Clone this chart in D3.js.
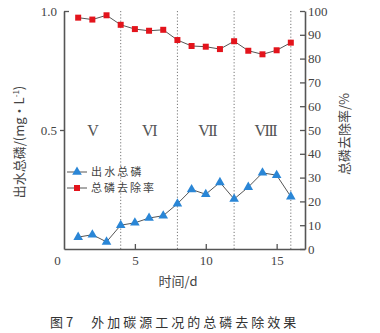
<!DOCTYPE html>
<html>
<head>
<meta charset="utf-8">
<script src="https://cdn.jsdelivr.net/npm/d3@7"></script>
<style>
  html, body { margin: 0; padding: 0; background: #fff; }
  svg { display: block; }
</style>
</head>
<body>
<script>
// Days of operation
const days = [1, 2, 3, 4, 5, 6, 7, 8, 9, 10, 11, 12, 13, 14, 15, 16];
// Effluent total phosphorus, mg/L (left axis)
const effluentTP = [0.05, 0.06, 0.03, 0.10, 0.11, 0.13, 0.14, 0.19, 0.25, 0.23, 0.28, 0.21, 0.26, 0.32, 0.31, 0.22];
// Total phosphorus removal rate, % (right axis)
const removalRate = [97.2, 96.4, 98.2, 94.2, 92.4, 91.7, 92.1, 87.8, 85.3, 85.0, 84.0, 87.3, 83.3, 81.8, 83.5, 86.7];
// Stage boundaries and stage names
const stageBounds = [4, 8, 12, 16];
const stageNames = ["V", "VI", "VII", "VIII"];
const stageCenters = [2, 6, 10.1, 14.2];
// Tick values
const xTicks = [0, 5, 10, 15];
const leftTicks = [0.5, 1.0];
const rightTicks = [0, 10, 20, 30, 40, 50, 60, 70, 80, 90, 100];
const seriesNames = ["出水总磷", "总磷去除率"];

const W = 380, H = 333;
const margin = { left: 64, right: 75, top: 11, bottom: 84 };
const serif = "'Liberation Serif', 'Times New Roman', serif";
const cjk = "'Noto Sans CJK SC', sans-serif";
const ink = "#444";
const blue = "#2a86d6";
const red = "#e3141c";

const svg = d3.select("body").append("svg").attr("width", W).attr("height", H);

const x = d3.scaleLinear().domain([0, 17]).range([margin.left, W - margin.right]);
const yL = d3.scaleLinear().domain([0, 1]).range([H - margin.bottom, margin.top]);
const yR = d3.scaleLinear().domain([0, 100]).range([H - margin.bottom, margin.top]);

// stage separators
svg.append("g").selectAll("line").data(stageBounds).join("line")
  .attr("x1", d => x(d)).attr("x2", d => x(d))
  .attr("y1", yL(1)).attr("y2", yL(0))
  .attr("stroke", "#777").attr("stroke-width", 1).attr("stroke-dasharray", "1.2,2");

// stage labels
svg.append("g").selectAll("text").data(stageNames).join("text")
  .attr("x", (d, i) => x(stageCenters[i])).attr("y", yL(0.5))
  .attr("dy", "0.36em").attr("text-anchor", "middle")
  .attr("font-family", serif).attr("font-size", 16).attr("letter-spacing", -1.5)
  .attr("fill", "#555").text(d => d);

function styleAxis(g) {
  g.selectAll("path.domain").attr("stroke", "#555").attr("stroke-width", 1.6);
  g.selectAll(".tick line").attr("stroke", "#555").attr("stroke-width", 1.3);
  g.selectAll("text").attr("font-family", serif).attr("font-size", 13).attr("fill", ink);
}

// bottom axis
const gx = svg.append("g").attr("transform", `translate(0,${yL(0)})`)
  .call(d3.axisBottom(x).tickValues(xTicks).tickSize(-5).tickSizeOuter(0).tickPadding(7).tickFormat(d3.format("d")));
styleAxis(gx);
gx.selectAll(".tick").filter(d => d === 0).select("line").remove();
gx.selectAll(".tick").filter(d => d === 0).select("text").attr("dx", -7);

// left axis
const gl = svg.append("g").attr("transform", `translate(${x(0)},0)`)
  .call(d3.axisLeft(yL).tickValues(leftTicks).tickSize(4).tickSizeOuter(0).tickPadding(3).tickFormat(d3.format(".1f")));
styleAxis(gl);
gl.selectAll(".tick").filter(d => d === 1).select("line").attr("x2", 5);

// right axis
const gr = svg.append("g").attr("transform", `translate(${x(17)},0)`)
  .call(d3.axisRight(yR).tickValues(rightTicks).tickSize(-5).tickSizeOuter(0).tickPadding(3));
styleAxis(gr);

// axis titles
svg.append("text").attr("transform", `translate(24,${142}) rotate(-90)`)
  .attr("text-anchor", "middle").attr("font-family", cjk).attr("font-size", 13).attr("fill", ink)
  .html('出水总磷/(mg·L<tspan dy="-5" font-size="8">-1</tspan><tspan dy="5">)</tspan>');
svg.append("text").attr("transform", `translate(349,${134}) rotate(-90)`)
  .attr("text-anchor", "middle").attr("font-family", cjk).attr("font-size", 13).attr("fill", ink)
  .text("总磷去除率/%");
svg.append("text").attr("x", 178).attr("y", 281).attr("dy", "0.36em")
  .attr("text-anchor", "middle").attr("font-family", cjk).attr("font-size", 13).attr("fill", ink)
  .text("时间/d");

// series lines
const lineL = d3.line().x((d, i) => x(days[i])).y(d => yL(d));
const lineR = d3.line().x((d, i) => x(days[i])).y(d => yR(d));
svg.append("path").attr("d", lineL(effluentTP)).attr("fill", "none").attr("stroke", "#555").attr("stroke-width", 1);
svg.append("path").attr("d", lineR(removalRate)).attr("fill", "none").attr("stroke", "#555").attr("stroke-width", 1);

const tri = d3.symbol().type(d3.symbolTriangle).size(40);
const sq = d3.symbol().type(d3.symbolSquare).size(36);
svg.append("g").selectAll("path").data(effluentTP).join("path")
  .attr("transform", (d, i) => `translate(${x(days[i])},${yL(d)})`)
  .attr("d", tri).attr("fill", blue);
svg.append("g").selectAll("path").data(removalRate).join("path")
  .attr("transform", (d, i) => `translate(${x(days[i])},${yR(d)})`)
  .attr("d", sq).attr("fill", red);

// legend
const legend = svg.append("g").attr("transform", "translate(67,172)");
[blue, red].forEach((c, i) => {
  const row = legend.append("g").attr("transform", `translate(0,${i * 16})`);
  row.append("line").attr("x1", 0).attr("x2", 20).attr("stroke", "#555").attr("stroke-width", 1);
  row.append("path").attr("transform", "translate(10,0)").attr("d", i === 0 ? tri : sq).attr("fill", c);
  row.append("text").attr("x", 24).attr("dy", "0.36em").attr("font-family", cjk).attr("font-size", 11)
    .attr("textLength", seriesNames[i].length * 12.6).attr("lengthAdjust", "spacing")
    .attr("fill", ink).text(seriesNames[i]);
});

// caption
svg.append("text").attr("x", 50).attr("y", 322).attr("dy", "0.36em")
  .attr("font-family", cjk).attr("font-size", 13).attr("fill", "#333")
  .html('图 7<tspan dx="18" letter-spacing="3">外加碳源工况的总磷去除效果</tspan>');
</script>
</body>
</html>
